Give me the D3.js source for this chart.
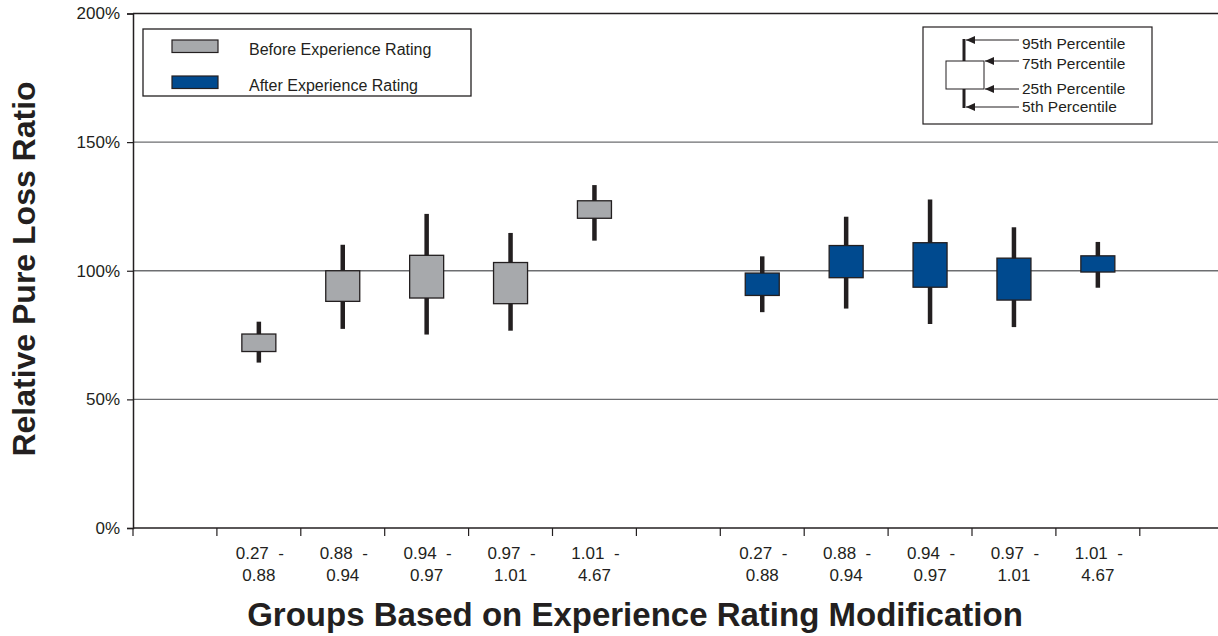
<!DOCTYPE html>
<html>
<head>
<meta charset="utf-8">
<script src="https://cdn.jsdelivr.net/npm/d3@7"></script>
<style>
  html, body { margin: 0; padding: 0; background: #fff; }
  svg { display: block; font-family: "Liberation Sans", Arial, Helvetica, sans-serif; }
</style>
</head>
<body>
<svg id="chart" width="1218" height="636"></svg>
<script>
// ---------- data ----------
const slots = ["gapL", "B1", "B2", "B3", "B4", "B5", "gapM", "A1", "A2", "A3", "A4", "A5", "gapR"];
const groupLabelsTop = ["0.27  -", "0.88  -", "0.94  -", "0.97  -", "1.01  -"];
const groupLabelsBottom = ["0.88", "0.94", "0.97", "1.01", "4.67"];
const yTicks = [0, 50, 100, 150, 200];

const beforeP5  = [64.3, 77.4, 75.2, 76.7, 111.7];
const beforeP25 = [68.6, 88.1, 89.4, 87.2, 120.4];
const beforeP75 = [75.4, 100.0, 106.0, 103.2, 127.2];
const beforeP95 = [80.2, 110.1, 122.1, 114.7, 133.3];

const afterP5  = [83.9, 85.3, 79.3, 78.1, 93.4];
const afterP25 = [90.4, 97.3, 93.6, 88.6, 99.5];
const afterP75 = [99.1, 109.8, 110.9, 104.9, 105.8];
const afterP95 = [105.6, 121.0, 127.7, 116.9, 111.2];

const seriesNames = ["Before Experience Rating", "After Experience Rating"];
const percentileNames = ["95th Percentile", "75th Percentile", "25th Percentile", "5th Percentile"];

// ---------- build ----------
const colors = { before: "#a7a9ac", after: "#004a8f", ink: "#231f20", grid: "#6d6e71" };
const svg = d3.select("#chart");

const x = d3.scaleBand().domain(slots).range([133, 133 + 13 * 83.9]).padding(0);
const y = d3.scaleLinear().domain([0, 200]).range([528, 13.5]);

// gridlines
svg.append("g").selectAll("line").data(yTicks.filter(d => d > 0 && d < 200)).join("line")
  .attr("x1", 133).attr("x2", 1218)
  .attr("y1", d => y(d)).attr("y2", d => y(d))
  .attr("stroke", colors.grid).attr("stroke-width", 1.3);

// top frame line
svg.append("line").attr("x1", 133).attr("x2", 1218).attr("y1", y(200)).attr("y2", y(200))
  .attr("stroke", colors.ink).attr("stroke-width", 1.5);

// y axis
const yAxis = d3.axisLeft(y).tickValues(yTicks).tickFormat(d => d + "%").tickSize(6).tickPadding(7);
const gy = svg.append("g").attr("transform", "translate(133,0)").call(yAxis);
gy.select(".domain").attr("stroke", colors.ink).attr("stroke-width", 1.5);
gy.selectAll(".tick line").attr("stroke", colors.ink).attr("stroke-width", 1.2);
gy.selectAll(".tick text").attr("font-size", 17).attr("fill", colors.ink)
  .attr("font-family", "Liberation Sans, Arial, sans-serif");

// x axis
svg.append("line").attr("x1", 133).attr("x2", 1218).attr("y1", y(0)).attr("y2", y(0))
  .attr("stroke", colors.ink).attr("stroke-width", 1.4);
const boundaries = slots.map(s => x(s));
svg.append("g").selectAll("line").data(boundaries).join("line")
  .attr("x1", d => d).attr("x2", d => d).attr("y1", y(0)).attr("y2", y(0) + 8)
  .attr("stroke", colors.ink).attr("stroke-width", 1.2);

// x tick labels
const groupSlots = [["B1","B2","B3","B4","B5"], ["A1","A2","A3","A4","A5"]];
groupSlots.forEach(gs => {
  gs.forEach((s, i) => {
    const cx = x(s) + x.bandwidth() / 2;
    svg.append("text").attr("x", cx + 1).attr("y", 559).attr("text-anchor", "middle")
      .attr("font-size", 17).attr("fill", colors.ink).style("white-space", "pre")
      .text(groupLabelsTop[i]);
    svg.append("text").attr("x", cx).attr("y", 580.5).attr("text-anchor", "middle")
      .attr("font-size", 17).attr("fill", colors.ink)
      .text(groupLabelsBottom[i]);
  });
});

// boxes
const boxW = 34;
function drawBoxes(keys, p5, p25, p75, p95, fill) {
  const data = keys.map((k, i) => ({ k, p5: p5[i], p25: p25[i], p75: p75[i], p95: p95[i] }));
  const g = svg.append("g");
  g.selectAll("line.w").data(data).join("line").attr("class", "w")
    .attr("x1", d => x(d.k) + x.bandwidth() / 2).attr("x2", d => x(d.k) + x.bandwidth() / 2)
    .attr("y1", d => y(d.p95)).attr("y2", d => y(d.p5))
    .attr("stroke", colors.ink).attr("stroke-width", 4.5);
  g.selectAll("rect").data(data).join("rect")
    .attr("x", d => x(d.k) + x.bandwidth() / 2 - boxW / 2).attr("width", boxW)
    .attr("y", d => y(d.p75)).attr("height", d => y(d.p25) - y(d.p75))
    .attr("fill", fill).attr("stroke", colors.ink).attr("stroke-width", 1.3);
}
drawBoxes(groupSlots[0], beforeP5, beforeP25, beforeP75, beforeP95, colors.before);
drawBoxes(groupSlots[1], afterP5, afterP25, afterP75, afterP95, colors.after);

// axis titles
svg.append("text").attr("x", 635).attr("y", 626).attr("text-anchor", "middle")
  .attr("font-size", 33).attr("font-weight", "bold").attr("fill", colors.ink)
  .text("Groups Based on Experience Rating Modification");
svg.append("text").attr("transform", "translate(35,269) rotate(-90)").attr("text-anchor", "middle")
  .attr("font-size", 32).attr("font-weight", "bold").attr("fill", colors.ink)
  .text("Relative Pure Loss Ratio");

// series legend
const leg = svg.append("g");
leg.append("rect").attr("x", 143).attr("y", 29).attr("width", 328).attr("height", 67)
  .attr("fill", "#fff").attr("stroke", colors.ink).attr("stroke-width", 1.3);
[colors.before, colors.after].forEach((c, i) => {
  const yy = [40, 76][i];
  leg.append("rect").attr("x", 172).attr("y", yy).attr("width", 46).attr("height", 12.5)
    .attr("fill", c).attr("stroke", colors.ink).attr("stroke-width", 1.2);
  leg.append("text").attr("x", 249).attr("y", yy + 15).attr("font-size", 16).attr("fill", colors.ink)
    .text(seriesNames[i]);
});

// percentile legend
const pl = svg.append("g");
pl.append("defs").append("marker").attr("id", "arr").attr("viewBox", "0 0 10 10")
  .attr("refX", 10).attr("refY", 5).attr("markerWidth", 9).attr("markerHeight", 8)
  .attr("markerUnits", "userSpaceOnUse").attr("orient", "auto")
  .attr("preserveAspectRatio", "none")
  .append("path").attr("d", "M0,0 L10,5 L0,10 Z").attr("fill", colors.ink);
pl.append("rect").attr("x", 923).attr("y", 27).attr("width", 229).attr("height", 97)
  .attr("fill", "#fff").attr("stroke", colors.ink).attr("stroke-width", 1.2);
pl.append("line").attr("x1", 964).attr("x2", 964).attr("y1", 39).attr("y2", 108)
  .attr("stroke", colors.ink).attr("stroke-width", 3);
pl.append("rect").attr("x", 946).attr("y", 61).attr("width", 38).attr("height", 28)
  .attr("fill", "#fff").attr("stroke", colors.ink).attr("stroke-width", 1);
const arrowYs = [40, 61, 89, 107];
const arrowEnds = [966, 985, 985, 966];
arrowYs.forEach((ay, i) => {
  pl.append("line").attr("x1", 1019).attr("x2", arrowEnds[i]).attr("y1", ay).attr("y2", ay)
    .attr("stroke", colors.ink).attr("stroke-width", 1.2).attr("marker-end", "url(#arr)");
  pl.append("text").attr("x", 1022).attr("y", [49, 69, 94, 112][i]).attr("font-size", 15.5)
    .attr("fill", colors.ink).text(percentileNames[i]);
});
</script>
</body>
</html>
